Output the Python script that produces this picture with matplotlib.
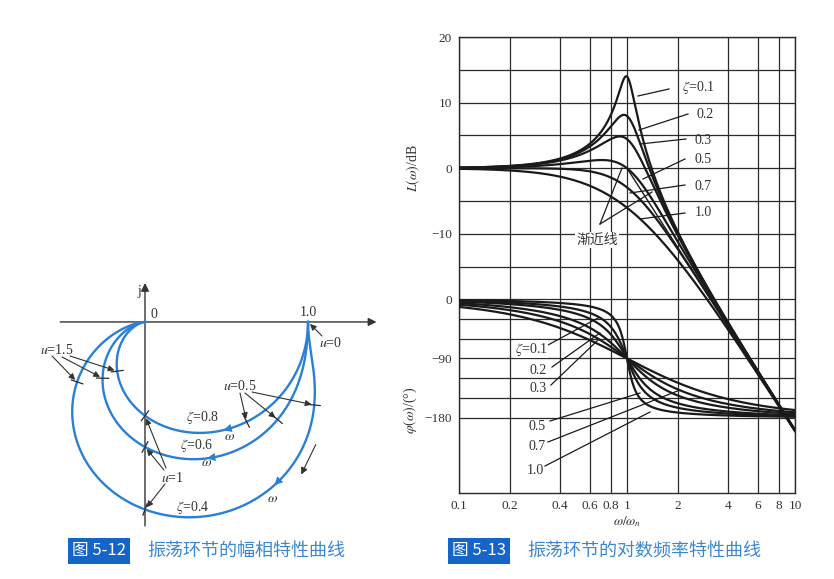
import numpy as np
import matplotlib
matplotlib.use('Agg')
import matplotlib.pyplot as plt

plt.rcParams['font.family'] = ['Liberation Serif', 'Noto Sans CJK SC', 'DejaVu Sans']
plt.rcParams['mathtext.fontset'] = 'stix'
plt.rcParams['axes.unicode_minus'] = True

W, H = 834, 579
fig = plt.figure(figsize=(W / 100, H / 100), dpi=100)


def P(x, y):
    return (x / W, 1 - y / H)


BLUE = '#2a80d6'
INK = '#1a1a1a'
CJK = ['Noto Sans CJK SC', 'DejaVu Sans']

# ---------------- data ----------------
nyq_zetas = [0.4, 0.6, 0.8]
nyq_labels = ['ζ=0.4', 'ζ=0.6', 'ζ=0.8']
nyq_marks = [0.5, 1.0, 1.5]
nyq_dir_u = [0.75, 0.78, 0.6]

bode_zetas = [0.1, 0.2, 0.3, 0.5, 0.7, 1.0]
bode_labels = ['ζ=0.1', '0.2', '0.3', '0.5', '0.7', '1.0']
x_ticks = [0.1, 0.2, 0.4, 0.6, 0.8, 1, 2, 4, 6, 8, 10]
x_ticklabels = ['0.1', '0.2', '0.4', '0.6', '0.8', '1', '2', '4', '6', '8', '10']
mag_ticks = [20, 10, 0, -10]
mag_grid = [20, 15, 10, 5, 0, -5, -10, -15]
phase_ticks = [0, -90, -180]
phase_grid = [0, -30, -60, -90, -120, -150, -180]

# phase axis shares the plot area with the magnitude axis
PH0, PHS = -20.0, 0.1


def ph(v):
    return PH0 + np.asarray(v, dtype=float) * PHS


def G(u, z):
    u = np.asarray(u, dtype=float)
    return 1.0 / (1 - u ** 2 + 2j * z * u)


# ================= Bode plot =================
ax = fig.add_axes([459 / W, 1 - 493 / H, 336 / W, 456 / H])
ax.set_xscale('log')
ax.set_xlim(0.1, 10)
ax.set_ylim(-49.5, 20)
for x in x_ticks:
    ax.axvline(x, color='#2a2a2a', lw=0.9, zorder=1)
for y in mag_grid:
    ax.axhline(y, color='#2a2a2a', lw=0.9, zorder=1)
for y in phase_grid:
    ax.axhline(ph(y), color='#2a2a2a', lw=0.9, zorder=1)

u = np.logspace(-1, 1, 800)
for z in bode_zetas:
    g = G(u, z)
    ax.plot(u, 20 * np.log10(np.abs(g)), color=INK, lw=1.6, zorder=3)
    ax.plot(u, ph(np.degrees(np.angle(g))), color=INK, lw=1.6, zorder=3)
# asymptote
ua = np.array([1.0, 10.0])
ax.plot(ua, -40 * np.log10(ua), color=INK, lw=1.0, zorder=3)

ax.set_xticks(x_ticks)
ax.set_xticklabels(x_ticklabels)
ax.xaxis.set_minor_locator(matplotlib.ticker.NullLocator())
ax.set_yticks(list(mag_ticks) + list(ph(phase_ticks)))
ax.set_yticklabels([f'{v:g}'.replace('-', '−') for v in mag_ticks] +
                   [f'{v:g}'.replace('-', '−') for v in phase_ticks])
ax.tick_params(length=0, labelsize=9.5, colors='#333333', pad=5)
for s in ax.spines.values():
    s.set_linewidth(1.0)
    s.set_color('#2a2a2a')

fig.text(*P(413, 168), r'$L(\omega)$/dB', rotation=90, ha='center', va='center',
         fontsize=10, color='#333333')
fig.text(*P(410, 410), r'$\varphi(\omega)$/(°)', rotation=90, ha='center', va='center',
         fontsize=10, color='#333333')
fig.text(*P(627, 522), r'$\omega/\omega_n$', ha='center', va='center',
         fontsize=9.5, color='#333333')

# magnitude annotations: (text pos, line start, line end) in pixels
mag_ann = [((698, 88), (669, 89), (638, 96)),
           ((705, 114), (688, 114), (639, 130)),
           ((703, 141), (686, 139), (640, 144)),
           ((703, 160), (685, 159), (643, 179)),
           ((703, 186), (685, 185), (630, 193)),
           ((703, 213), (685, 213), (640, 219))]
for lab, (tp, a, b) in zip(bode_labels, mag_ann):
    fig.text(*P(*tp), lab.replace('ζ', r'$\zeta$'), ha='center', va='center',
             fontsize=10, color='#333333')
    fig.add_artist(plt.Line2D([P(*a)[0], P(*b)[0]], [P(*a)[1], P(*b)[1]],
                              color=INK, lw=0.9, transform=fig.transFigure))
fig.text(*P(597, 240), '渐近线', ha='center', va='center', fontsize=10,
         color='#333333', family=CJK,
         bbox=dict(facecolor='white', edgecolor='none', pad=1))
for b in [(622, 168), (652, 192)]:
    fig.add_artist(plt.Line2D([P(600, 224)[0], P(*b)[0]], [P(600, 224)[1], P(*b)[1]],
                              color=INK, lw=0.9, transform=fig.transFigure))

phase_ann = [((531, 349), (548, 345), (598, 318)),
             ((538, 370), (552, 367), (600, 333)),
             ((538, 389), (551, 385), (598, 340)),
             ((537, 427), (550, 421), (640, 393)),
             ((537, 446), (548, 442), (680, 390)),
             ((535, 471), (545, 466), (650, 412))]
for lab, (tp, a, b) in zip(bode_labels, phase_ann):
    fig.text(*P(*tp), lab.replace('ζ', r'$\zeta$'), ha='center', va='center',
             fontsize=10, color='#333333',
             bbox=dict(facecolor='white', edgecolor='none', pad=0.5))
    fig.add_artist(plt.Line2D([P(*a)[0], P(*b)[0]], [P(*a)[1], P(*b)[1]],
                              color=INK, lw=0.9, transform=fig.transFigure))

# ================= Nyquist plot =================
axn = fig.add_axes([40 / W, 1 - 535 / H, 360 / W, 260 / H])
axn.set_xlim(-0.644, 1.564)
axn.set_ylim(-1.42, 0.313)
axn.axis('off')

axn.annotate('', xy=(1.42, 0), xytext=(-0.52, 0),
             arrowprops=dict(arrowstyle='-|>', color='#333333', lw=1.0,
                             mutation_scale=12, shrinkA=0, shrinkB=0))
axn.annotate('', xy=(0, 0.26), xytext=(0, -1.36),
             arrowprops=dict(arrowstyle='-|>', color='#333333', lw=1.0,
                             mutation_scale=12, shrinkA=0, shrinkB=0))
fig.text(*P(139, 292), 'j', ha='center', va='center', fontsize=10, color='#333333')
fig.text(*P(154, 314), '0', ha='center', va='center', fontsize=10, color='#333333')
fig.text(*P(308, 313), '1.0', ha='center', va='center', fontsize=10, color='#333333')

un = np.concatenate([np.linspace(0, 5, 3000), np.linspace(5, 80, 600)])
tr = axn.transData
inv = tr.inverted()
for z, du in zip(nyq_zetas, nyq_dir_u):
    g = G(un, z)
    axn.plot(g.real, g.imag, color=BLUE, lw=1.7, zorder=3)
    for m in nyq_marks:
        p0 = G(m, z)
        p1 = G(m + 1e-3, z)
        d0 = tr.transform((p0.real, p0.imag))
        d1 = tr.transform((p1.real, p1.imag))
        t = (d1 - d0) / np.hypot(*(d1 - d0))
        nrm = np.array([-t[1], t[0]])
        a = inv.transform(d0 + 6 * nrm)
        b = inv.transform(d0 - 6 * nrm)
        axn.plot([a[0], b[0]], [a[1], b[1]], color='#2a2a2a', lw=0.9, zorder=4)
    q0 = G(du - 0.03, z)
    q1 = G(du, z)
    axn.annotate('', xy=(q1.real, q1.imag), xytext=(q0.real, q0.imag),
                 arrowprops=dict(arrowstyle='-|>,head_length=0.6,head_width=0.3',
                                 color=BLUE, lw=0, mutation_scale=10,
                                 shrinkA=0, shrinkB=0), zorder=5)

# curve labels
for lab, tp in zip(nyq_labels, [(193, 507), (197, 446), (202, 417)]):
    fig.text(*P(*tp), lab.replace('ζ', r'$\zeta$'), ha='center', va='center',
             fontsize=10, color='#333333')
for tp in [(273, 498), (207, 463), (230, 436)]:
    fig.text(*P(*tp), r'$\omega$', ha='center', va='center', fontsize=10,
             color='#333333')


def arrow_to(z, m, start):
    p = G(m, z)
    axn.annotate('', xy=(p.real, p.imag), xytext=P(*start), textcoords='figure fraction',
                 arrowprops=dict(arrowstyle='-|>', color='#333333', lw=0.8,
                                 mutation_scale=9, shrinkA=0, shrinkB=2))


fig.text(*P(57, 350), r'$u$=1.5', ha='center', va='center', fontsize=10, color='#333333')
for z, s in zip(nyq_zetas, [(52, 356), (62, 357), (70, 356)]):
    arrow_to(z, 1.5, s)
fig.text(*P(172, 478), r'$u$=1', ha='center', va='center', fontsize=10, color='#333333')
for z, s in zip(nyq_zetas, [(165, 484), (164, 470), (166, 468)]):
    arrow_to(z, 1.0, s)
fig.text(*P(240, 386), r'$u$=0.5', ha='center', va='center', fontsize=10, color='#333333')
for z, s in zip(nyq_zetas, [(252, 392), (245, 393), (240, 393)]):
    arrow_to(z, 0.5, s)
fig.text(*P(331, 343), r'$u$=0', ha='center', va='center', fontsize=10, color='#333333')
arrow_to(0.4, 0.0, (322, 336))
fig.add_artist(matplotlib.patches.FancyArrowPatch(
    P(317, 442), P(300, 477), transform=fig.transFigure, arrowstyle='-|>',
    color='#333333', lw=0.8, mutation_scale=10))

# ================= captions =================
CAP_BOX = '#1565c8'
CAP_TXT = '#3b88d2'
fig.text(*P(99, 551), '图 5-12', ha='center', va='center', fontsize=12, color='white',
         family=CJK, bbox=dict(facecolor=CAP_BOX, edgecolor='none', pad=3))
fig.text(*P(147, 551), '振荡环节的幅相特性曲线', ha='left', va='center', fontsize=13,
         color=CAP_TXT, family=CJK)
fig.text(*P(479, 551), '图 5-13', ha='center', va='center', fontsize=12, color='white',
         family=CJK, bbox=dict(facecolor=CAP_BOX, edgecolor='none', pad=3))
fig.text(*P(527, 551), '振荡环节的对数频率特性曲线', ha='left', va='center', fontsize=13,
         color=CAP_TXT, family=CJK)

fig.savefig('out.png', dpi=100)
